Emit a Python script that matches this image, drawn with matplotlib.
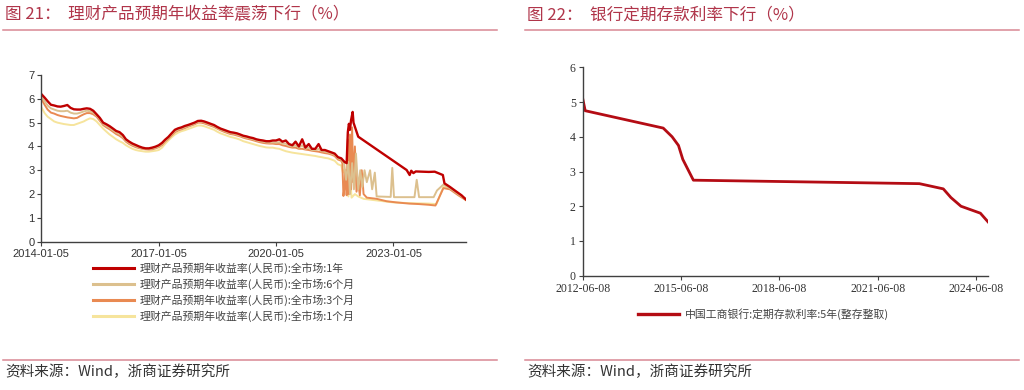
import matplotlib
matplotlib.use("Agg")
import matplotlib.pyplot as plt
import matplotlib.dates as mdates
from matplotlib.lines import Line2D
import pandas as pd

plt.rcParams['font.family'] = ['Noto Sans CJK SC', 'DejaVu Sans']

# ---------------- Left chart data (monthly 2014-01 .. 2021-08) ----------------
months = [f"{y}-{m:02d}-05" for y in range(2014, 2022) for m in range(1, 13)][:92]

y1_early = [6.2, 6.05, 5.9, 5.75, 5.72, 5.68, 5.67, 5.7, 5.74, 5.62, 5.56, 5.55,
            5.55, 5.58, 5.6, 5.58, 5.5, 5.35, 5.2, 5.0, 4.93, 4.85, 4.75, 4.65,
            4.6, 4.48, 4.3, 4.2, 4.12, 4.06, 4.0, 3.95, 3.92, 3.92, 3.95, 3.99,
            4.05, 4.15, 4.28, 4.4, 4.55, 4.7, 4.76, 4.8, 4.86, 4.9, 4.95, 5.0,
            5.07, 5.08, 5.05, 5.0, 4.95, 4.9, 4.82, 4.75, 4.7, 4.65, 4.6, 4.58,
            4.55, 4.5, 4.45, 4.42, 4.38, 4.35, 4.3, 4.27, 4.25, 4.22, 4.22, 4.25,
            4.25, 4.3, 4.2, 4.25, 4.1, 4.05, 4.2, 4.0, 4.3, 3.95, 4.1, 3.9,
            3.9, 4.1, 3.85, 3.85, 3.8, 3.75, 3.7, 3.55]
m6_early = [6.1, 5.9, 5.72, 5.6, 5.55, 5.5, 5.48, 5.48, 5.5, 5.42, 5.38, 5.38,
            5.42, 5.47, 5.5, 5.48, 5.42, 5.3, 5.14, 4.95, 4.86, 4.78, 4.68, 4.58,
            4.52, 4.4, 4.24, 4.15, 4.07, 4.01, 3.96, 3.92, 3.9, 3.9, 3.92, 3.95,
            4.0, 4.1, 4.23, 4.35, 4.5, 4.64, 4.71, 4.76, 4.81, 4.86, 4.91, 4.96,
            5.03, 5.04, 5.01, 4.96, 4.91, 4.86, 4.78, 4.71, 4.66, 4.61, 4.56, 4.54,
            4.5, 4.46, 4.41, 4.37, 4.34, 4.3, 4.26, 4.22, 4.2, 4.17, 4.16, 4.17,
            4.16, 4.18, 4.12, 4.12, 4.03, 4.0, 4.05, 3.95, 4.05, 3.9, 3.95, 3.85,
            3.85, 3.9, 3.8, 3.78, 3.75, 3.7, 3.65, 3.5]
m3_early = [6.0, 5.75, 5.55, 5.42, 5.38, 5.32, 5.28, 5.25, 5.22, 5.2, 5.18, 5.2,
            5.28, 5.35, 5.4, 5.4, 5.35, 5.25, 5.08, 4.9, 4.8, 4.72, 4.62, 4.52,
            4.45, 4.35, 4.2, 4.1, 4.03, 3.97, 3.93, 3.9, 3.88, 3.87, 3.88, 3.92,
            3.97, 4.06, 4.2, 4.32, 4.46, 4.6, 4.67, 4.72, 4.77, 4.83, 4.88, 4.93,
            5.0, 5.0, 4.97, 4.92, 4.87, 4.82, 4.75, 4.68, 4.62, 4.57, 4.52, 4.5,
            4.46, 4.42, 4.37, 4.33, 4.3, 4.26, 4.22, 4.18, 4.15, 4.13, 4.12, 4.12,
            4.1, 4.1, 4.05, 4.02, 3.98, 3.95, 3.95, 3.9, 3.9, 3.87, 3.85, 3.82,
            3.8, 3.78, 3.75, 3.72, 3.7, 3.66, 3.6, 3.45]
m1_early = [5.65, 5.4, 5.25, 5.15, 5.05, 5.0, 4.97, 4.94, 4.92, 4.9, 4.9, 4.95,
            5.0, 5.05, 5.12, 5.18, 5.15, 5.05, 4.9, 4.75, 4.62, 4.5, 4.4, 4.3,
            4.22, 4.15, 4.05, 3.97, 3.9, 3.85, 3.82, 3.8, 3.78, 3.78, 3.8, 3.82,
            3.85, 3.95, 4.1, 4.25, 4.38, 4.5, 4.58, 4.64, 4.68, 4.73, 4.78, 4.83,
            4.88, 4.88, 4.85, 4.8, 4.75, 4.7, 4.62, 4.55, 4.5, 4.45, 4.4, 4.37,
            4.33, 4.28, 4.22, 4.18, 4.14, 4.1, 4.06, 4.02, 3.99, 3.96, 3.95, 3.95,
            3.92, 3.9, 3.85, 3.8, 3.77, 3.74, 3.72, 3.7, 3.68, 3.66, 3.64, 3.62,
            3.6, 3.57, 3.55, 3.52, 3.5, 3.45, 3.4, 3.25]

# ---------------- Left chart data (2021-09 .. 2024-11, irregular) ----------------
y1_late_dates = ["2021-09-05", "2021-10-05", "2021-10-25", "2021-11-05", "2021-11-15",
                 "2021-11-25", "2021-12-05", "2021-12-20", "2021-12-28", "2022-02-10",
                 "2023-05-08", "2023-06-05", "2023-06-20", "2023-07-10", "2023-08-01",
                 "2023-12-01", "2024-01-25", "2024-04-10", "2024-04-25", "2024-06-15",
                 "2024-08-15", "2024-10-01", "2024-11-10"]
y1_late = [3.5, 3.35, 3.3, 4.6, 4.95, 4.7, 5.1, 5.45, 5.0, 4.41,
           3.01, 2.8, 2.98, 2.88, 2.95, 2.93, 2.94, 2.8, 2.45, 2.3,
           2.1, 1.95, 1.78]

m6_late_dates = ["2021-09-05", "2021-10-01", "2021-10-20", "2021-11-10", "2021-11-25",
                 "2021-12-15", "2022-01-01", "2022-01-20", "2022-02-10", "2022-03-01",
                 "2022-03-20", "2022-04-10", "2022-05-01", "2022-06-01", "2022-06-20",
                 "2022-07-15", "2022-08-01", "2022-12-10", "2022-12-25", "2023-01-10",
                 "2023-07-20", "2023-08-10", "2023-09-01", "2024-01-15", "2024-02-15",
                 "2024-04-15", "2024-06-15", "2024-09-01", "2024-11-10"]
m6_late = [3.45, 3.3, 2.6, 3.35, 2.0, 3.3, 2.2, 3.7, 2.2, 3.0,
           2.3, 3.0, 2.5, 3.0, 2.2, 2.9, 1.9, 1.88, 3.1, 1.87,
           1.87, 2.6, 1.87, 1.87, 2.15, 2.4, 2.25, 2.0, 1.8]

m3_late_dates = ["2021-09-05", "2021-09-15", "2021-09-25", "2021-10-05", "2021-10-15",
                 "2021-10-25", "2021-11-05", "2021-11-15", "2021-11-25", "2021-12-05",
                 "2021-12-15", "2021-12-25", "2022-01-10", "2022-01-25", "2022-02-10",
                 "2022-02-25", "2022-03-15", "2022-04-01", "2022-05-01", "2022-08-01",
                 "2022-11-01", "2023-02-01", "2023-06-01", "2023-09-01", "2023-12-01",
                 "2024-02-01", "2024-04-15", "2024-06-15", "2024-09-01", "2024-11-10"]
m3_late = [3.4, 3.3, 1.92, 2.3, 3.0, 1.95, 4.3, 2.0, 4.5, 2.2,
           4.8, 2.5, 4.0, 2.1, 2.5, 1.95, 3.0, 2.0, 1.85, 1.8,
           1.7, 1.65, 1.6, 1.58, 1.55, 1.52, 2.25, 2.2, 1.95, 1.75]

m1_late_dates = ["2021-09-05", "2021-09-20", "2021-10-05", "2021-10-20", "2021-11-10",
                 "2021-11-25", "2021-12-10", "2022-01-10", "2022-02-10", "2022-04-01",
                 "2022-07-01", "2022-10-01", "2023-01-01", "2023-06-01", "2023-12-01",
                 "2024-02-10", "2024-04-15", "2024-06-15", "2024-09-01", "2024-11-10"]
m1_late = [3.2, 2.9, 3.05, 2.3, 1.9, 2.8, 1.85, 2.0, 1.9, 1.8,
           1.75, 1.7, 1.65, 1.62, 1.6, 1.58, 2.3, 2.25, 2.0, 1.75]

left_labels = ["理财产品预期年收益率(人民币):全市场:1年",
               "理财产品预期年收益率(人民币):全市场:6个月",
               "理财产品预期年收益率(人民币):全市场:3个月",
               "理财产品预期年收益率(人民币):全市场:1个月"]
left_xticks = ["2014-01-05", "2017-01-05", "2020-01-05", "2023-01-05"]

# ---------------- Right chart data ----------------
dep_dates = ["2012-06-08", "2012-07-06", "2014-11-22", "2015-03-01", "2015-05-11",
             "2015-06-28", "2015-08-26", "2015-10-24", "2022-09-15", "2023-06-08",
             "2023-09-01", "2023-12-22", "2024-07-25", "2024-10-18"]
dep_rates = [5.10, 4.75, 4.25, 4.00, 3.75, 3.35, 3.05, 2.75, 2.65, 2.50,
             2.25, 2.00, 1.80, 1.55]
right_label = "中国工商银行:定期存款利率:5年(整存整取)"
right_xticks = ["2012-06-08", "2015-06-08", "2018-06-08", "2021-06-08", "2024-06-08"]

# ---------------- Styling ----------------
C_1Y = "#bf0000"
C_6M = "#dcc08e"
C_3M = "#e98a52"
C_1M = "#f6e49c"
TITLE_C = "#b0354a"
RULE_C = "#d98893"
AX_C = "#404040"

fig = plt.figure(figsize=(10.24, 3.9), dpi=100)

def D(lst):
    return pd.to_datetime(lst)

# Left axes
axL = fig.add_axes([41.3 / 1024, 1 - 241.7 / 390, (466 - 41.3) / 1024, (241.7 - 75) / 390])
mdt = D(months)
series = [
    (m1_early, m1_late_dates, m1_late, C_1M, 1.4),
    (m3_early, m3_late_dates, m3_late, C_3M, 1.4),
    (m6_early, m6_late_dates, m6_late, C_6M, 1.4),
    (y1_early, y1_late_dates, y1_late, C_1Y, 1.7),
]
handles = {}
for early, ld, lv, col, lw in series:
    x = list(mdt) + list(D(ld))
    y = list(early) + list(lv)
    h, = axL.plot(x, y, color=col, lw=lw, solid_joinstyle='round')
    handles[col] = h

axL.set_ylim(0, 7)
axL.set_yticks(range(0, 8))
axL.set_xlim(pd.Timestamp("2014-01-05"), pd.Timestamp("2024-11-12"))
axL.set_xticks(D(left_xticks))
axL.xaxis.set_major_formatter(mdates.DateFormatter("%Y-%m-%d"))
for s in ["top", "right"]:
    axL.spines[s].set_visible(False)
for s in ["left", "bottom"]:
    axL.spines[s].set_color(AX_C)
    axL.spines[s].set_linewidth(1.0)
axL.tick_params(axis='both', colors=AX_C, length=3, width=0.8, labelsize=8, pad=2,
                labelcolor="#333333")
for lab in axL.get_xticklabels() + axL.get_yticklabels():
    lab.set_family("Liberation Sans")

leg = axL.legend([handles[C_1Y], handles[C_6M], handles[C_3M], handles[C_1M]], left_labels,
                 loc="upper left", bbox_to_anchor=(93 / 1024, 1 - 262 / 390),
                 bbox_transform=fig.transFigure, frameon=False, fontsize=7.8,
                 handlelength=3.8, handletextpad=0.5, labelspacing=0.42, borderpad=0,
                 borderaxespad=0)
for t in leg.get_texts():
    t.set_color("#444444")
for ln in leg.get_lines():
    ln.set_linewidth(2.2)

# Right axes
axR = fig.add_axes([582.7 / 1024, 1 - 275.7 / 390, (988 - 582.7) / 1024, (275.7 - 67.3) / 390])
hR, = axR.plot(D(dep_dates), dep_rates, color="#b40c14", lw=2.0, solid_joinstyle='round')
axR.set_ylim(0, 6)
axR.set_yticks(range(0, 7))
axR.set_xlim(pd.Timestamp("2012-06-08"), pd.Timestamp("2024-10-18"))
axR.set_xticks(D(right_xticks))
axR.xaxis.set_major_formatter(mdates.DateFormatter("%Y-%m-%d"))
for s in ["top", "right"]:
    axR.spines[s].set_visible(False)
for s in ["left", "bottom"]:
    axR.spines[s].set_color(AX_C)
    axR.spines[s].set_linewidth(1.0)
axR.tick_params(axis='both', colors=AX_C, length=3, width=0.8, labelsize=8.5, pad=2,
                labelcolor="#333333")
for lab in axR.get_xticklabels() + axR.get_yticklabels():
    lab.set_family("Liberation Serif")

legR = axR.legend([hR], [right_label], loc="center left",
                  bbox_to_anchor=(638 / 1024, 1 - 314 / 390), bbox_transform=fig.transFigure,
                  frameon=False, fontsize=7.8, handlelength=3.8, handletextpad=0.5,
                  borderpad=0, borderaxespad=0)
for t in legR.get_texts():
    t.set_color("#444444")
for ln in legR.get_lines():
    ln.set_linewidth(2.4)

# Titles, rules, sources
fig.text(5 / 1024, 1 - 15 / 390, "图 21：  理财产品预期年收益率震荡下行（%）",
         fontsize=12, color=TITLE_C, va="center", ha="left")
fig.text(527 / 1024, 1 - 15 / 390, "图 22：  银行定期存款利率下行（%）",
         fontsize=12, color=TITLE_C, va="center", ha="left")
for (x0, x1) in [(3, 497), (525, 1019)]:
    for yy in (30, 360):
        fig.add_artist(Line2D([x0 / 1024, x1 / 1024], [1 - yy / 390, 1 - yy / 390],
                              transform=fig.transFigure, color=RULE_C, lw=1.1))
fig.text(5 / 1024, 1 - 372 / 390, "资料来源：Wind，浙商证券研究所", fontsize=10.5,
         color="#333333", va="center", ha="left")
fig.text(527 / 1024, 1 - 372 / 390, "资料来源：Wind，浙商证券研究所", fontsize=10.5,
         color="#333333", va="center", ha="left")

fig.savefig("out.png", dpi=100, facecolor="white")
